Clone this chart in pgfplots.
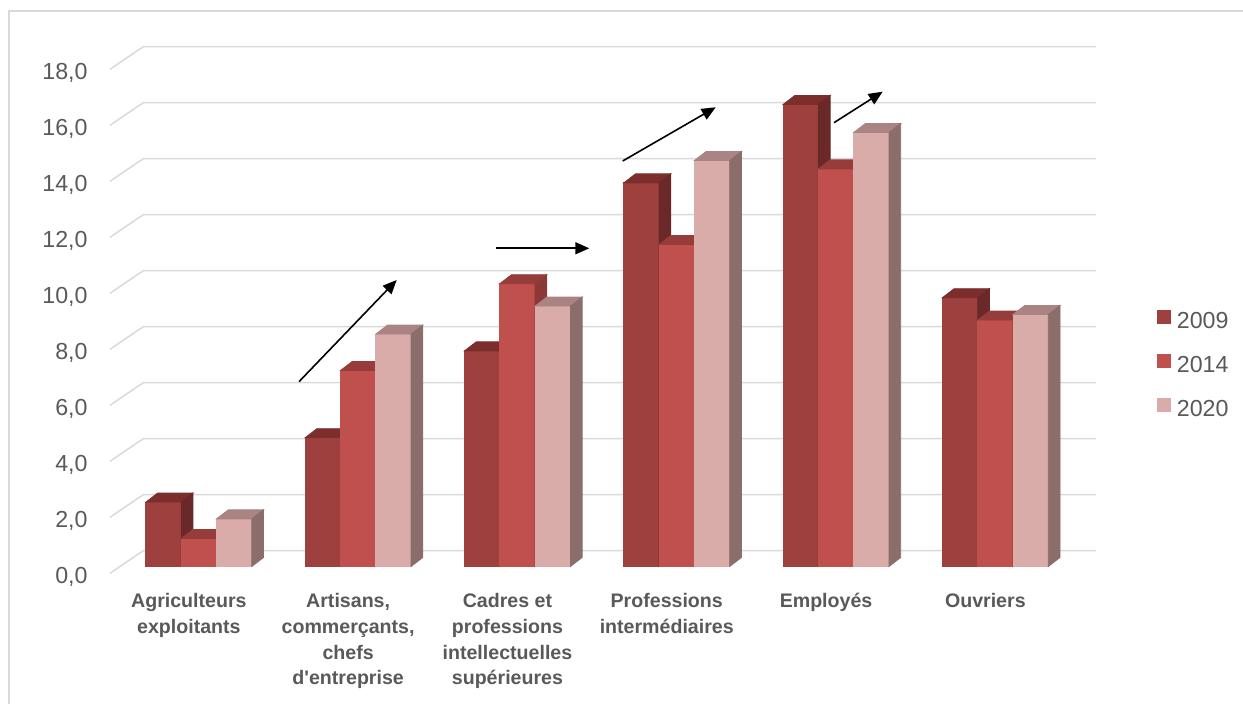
\documentclass[border=0pt]{standalone}
\usepackage{fontspec}
\setmainfont{Liberation Sans}
\usepackage{pgfplots}
\pgfplotsset{compat=1.18}
\usepackage{pgfplotstable}
\usetikzlibrary{arrows.meta}

\definecolor{txt}{HTML}{595959}
\definecolor{gridc}{HTML}{D9D9D9}
\definecolor{aF}{HTML}{9E413E}
\definecolor{aT}{HTML}{7B2E2C}
\definecolor{aS}{HTML}{6B2828}
\definecolor{bF}{HTML}{C0504D}
\definecolor{bT}{HTML}{963C3A}
\definecolor{bS}{HTML}{8A3936}
\definecolor{cF}{HTML}{D9ABA9}
\definecolor{cT}{HTML}{A98482}
\definecolor{cS}{HTML}{8B6D6C}

% share by category, 2009 / 2014 / 2020
\pgfplotstableread{
i a b c
0 2.3 1.0 1.7
1 4.6 7.0 8.3
2 7.7 10.1 9.3
3 13.7 11.5 14.5
4 16.5 14.2 15.5
5 9.6 8.8 9.0
}\data

\pgfdeclareplotmark{nothing}{}

% 3d column drawn at each data point: offset, front, top, side colour, column
\pgfplotsset{
  col3d/.style n args={5}{
    forget plot, only marks, scatter, mark=nothing,
    visualization depends on={\thisrow{#5} \as \barh},
    scatter/@pre marker code/.code={%
      \pgfmathsetlengthmacro\hh{\barh*14}%
      \fill[#2] (#1-8.825pt,0pt) rectangle (#1+8.825pt,-\hh);
      \fill[#3] (#1-8.825pt,0pt) -- ++(5.85pt,4.5pt) -- ++(17.65pt,0pt) -- ++(-5.85pt,-4.5pt) -- cycle;
      \fill[#4] (#1+8.825pt,0pt) -- ++(5.85pt,4.5pt) -- ++(0pt,-\hh) -- ++(-5.85pt,-4.5pt) -- cycle;
    },
    scatter/@post marker code/.code={},
  },
}

\begin{document}
\begin{tikzpicture}
\path[use as bounding box] (-59.6pt,-68.75pt) rectangle (561.9pt,283.25pt);
\draw[gridc, line width=0.75pt] (-55.1pt,-75pt) -- (-55.1pt,277.75pt) -- (570pt,277.75pt);
\begin{axis}[
  at={(0,0)}, anchor=south west,
  x=79.65pt, y=14pt,
  xmin=-0.5, xmax=5.5, ymin=0, ymax=18,
  clip=false,
  axis line style={draw=none},
  major tick length=0pt,
  ytick={0,2,...,18},
  xtick={0,...,5},
  xticklabels={{Agriculteurs\\exploitants},
    {Artisans,\\commerçants,\\chefs\\d\textquotesingle entreprise},
    {Cadres et\\professions\\intellectuelles\\supérieures},
    {Professions\\intermédiaires},
    {Employés},
    {Ouvriers}},
  xticklabel style={anchor=north, align=center, inner sep=0pt,
    yshift=-13.25pt, xshift=-5pt, text=txt,
    font=\bfseries\fontsize{9.8}{12.9}\selectfont},
  yticklabel style={anchor=east, inner sep=0pt, xshift=-15.6pt,
    yshift=-5.05pt, text=txt, font=\fontsize{11.6}{14}\selectfont},
  /pgf/number format/fixed,
  /pgf/number format/fixed zerofill,
  /pgf/number format/precision=1,
  /pgf/number format/use comma,
  /pgf/number format/assume math mode=true,
  legend cell align=left,
  legend style={at={(axis cs:5.5,7.2)}, anchor=west, xshift=41pt,
    draw=none, fill=none, inner sep=0pt, row sep=11.2pt,
    nodes={inner sep=0pt}, text=txt,
    font=\fontsize{11.6}{14}\selectfont,
    /tikz/every odd column/.append style={column sep=3pt}},
]
\pgfplotsinvokeforeach{0,2,...,18}{
  \draw[gridc, line width=0.75pt]
    ([xshift=-4.6pt,yshift=-3.4pt]axis cs:-0.5,#1)
    -- ([xshift=12pt,yshift=7.9pt]axis cs:-0.5,#1)
    -- ([xshift=10.5pt,yshift=7.9pt]axis cs:5.5,#1);
}
\addplot[col3d={-17.65pt}{aF}{aT}{aS}{a}] table[x=i, y=a] {\data};
\addplot[col3d={0pt}{bF}{bT}{bS}{b}] table[x=i, y=b] {\data};
\addplot[col3d={17.65pt}{cF}{cT}{cS}{c}] table[x=i, y=c] {\data};
\addlegendimage{legend image code/.code={\fill[aF] (0pt,-0.6pt) rectangle (6.35pt,5.75pt);}}
\addlegendentry{2009}
\addlegendimage{legend image code/.code={\fill[bF] (0pt,-0.6pt) rectangle (6.35pt,5.75pt);}}
\addlegendentry{2014}
\addlegendimage{legend image code/.code={\fill[cF] (0pt,-0.6pt) rectangle (6.35pt,5.75pt);}}
\addlegendentry{2020}
\end{axis}
\begin{scope}[line width=0.8pt, -{Triangle[length=7pt,width=6pt]}]
\draw (89.9pt,92.4pt) -- (138.75pt,143.25pt);
\draw (188.4pt,159.1pt) -- (235.05pt,159.1pt);
\draw (251.75pt,202.75pt) -- (298.25pt,229.6pt);
\draw (357.4pt,221.9pt) -- (381.75pt,237.4pt);
\end{scope}
\end{tikzpicture}
\end{document}
